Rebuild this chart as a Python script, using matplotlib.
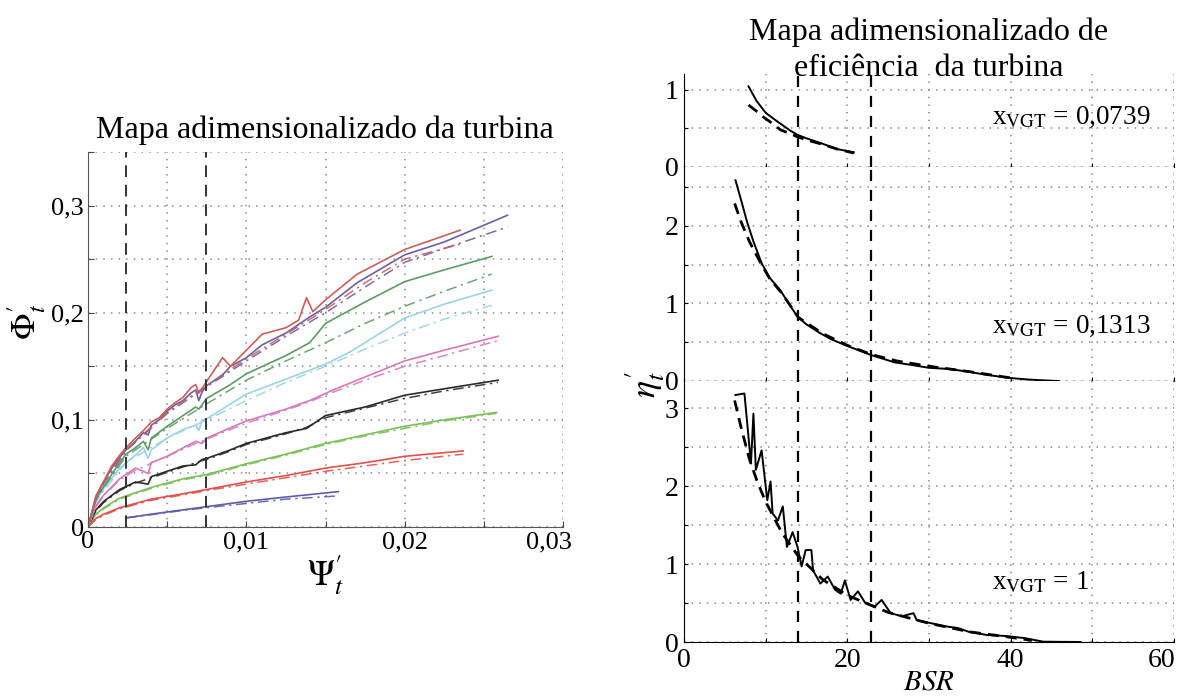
import numpy as np
import matplotlib
matplotlib.use("Agg")
import matplotlib.pyplot as plt
import matplotlib.transforms as mtransforms

plt.rcParams['font.family'] = ['Liberation Serif', 'DejaVu Serif']
plt.rcParams['mathtext.fontset'] = 'stix'

# ---- left chart: turbine map (Psi'_t vs Phi'_t), solid = measured, dash-dot = model ----
blue_x = [0.0024, 0.004, 0.006, 0.0075, 0.01, 0.0125, 0.0158]
blue_y = [0.0085, 0.012, 0.016, 0.019, 0.024, 0.028, 0.033]
blue_fit = [0.0085, 0.0115, 0.0155, 0.018, 0.022, 0.026, 0.029]

red_x = [0, 0.0005, 0.001, 0.002, 0.004, 0.006, 0.0075, 0.01, 0.0125, 0.015, 0.0175, 0.02, 0.0237]
red_y = [0, 0.008, 0.012, 0.018, 0.026, 0.031, 0.035, 0.042, 0.048, 0.055, 0.060, 0.066, 0.071]
red_fit = [0, 0.007, 0.011, 0.017, 0.025, 0.030, 0.034, 0.040, 0.046, 0.052, 0.057, 0.062, 0.068]

green_x = [0, 0.0005, 0.001, 0.002, 0.003, 0.004, 0.005, 0.006, 0.0075, 0.01, 0.0125, 0.015, 0.0175, 0.02, 0.0225, 0.0258]
green_y = [0, 0.012, 0.018, 0.027, 0.032, 0.037, 0.041, 0.045, 0.049, 0.059, 0.068, 0.078, 0.086, 0.094, 0.100, 0.107]
green_fit = [0, 0.011, 0.017, 0.026, 0.031, 0.036, 0.040, 0.044, 0.048, 0.058, 0.067, 0.077, 0.085, 0.092, 0.099, 0.106]

black_x = [0, 0.0005, 0.001, 0.002, 0.003, 0.0038, 0.004, 0.005, 0.006, 0.0068, 0.0072, 0.0075,
           0.009, 0.01, 0.0125, 0.0138, 0.015, 0.0175, 0.02, 0.0225, 0.0259]
black_y = [0, 0.016, 0.024, 0.035, 0.042, 0.040, 0.047, 0.052, 0.057, 0.058, 0.063, 0.064,
           0.072, 0.078, 0.088, 0.092, 0.104, 0.112, 0.123, 0.129, 0.137]
black_fit = [0, 0.015, 0.023, 0.034, 0.041, 0.045, 0.046, 0.051, 0.056, 0.060, 0.062, 0.063,
             0.071, 0.077, 0.087, 0.093, 0.102, 0.111, 0.120, 0.127, 0.135]

pink_x = [0, 0.0005, 0.001, 0.002, 0.003, 0.0038, 0.004, 0.005, 0.0068, 0.0072, 0.0075,
          0.01, 0.0125, 0.014, 0.0155, 0.0175, 0.02, 0.0225, 0.0259]
pink_y = [0, 0.020, 0.030, 0.045, 0.055, 0.050, 0.060, 0.066, 0.080, 0.078, 0.083,
          0.099, 0.110, 0.118, 0.128, 0.140, 0.155, 0.165, 0.178]
pink_fit = [0, 0.019, 0.029, 0.044, 0.053, 0.058, 0.060, 0.066, 0.078, 0.080, 0.082,
            0.097, 0.109, 0.117, 0.126, 0.137, 0.150, 0.160, 0.174]

cyan_x = [0, 0.0005, 0.001, 0.002, 0.003, 0.0035, 0.0038, 0.004, 0.005, 0.006, 0.0068, 0.007,
          0.0072, 0.0075, 0.01, 0.0125, 0.015, 0.0165, 0.02, 0.0225, 0.0255]
cyan_y = [0, 0.025, 0.036, 0.055, 0.067, 0.074, 0.064, 0.072, 0.083, 0.091, 0.095, 0.090,
          0.100, 0.101, 0.124, 0.138, 0.152, 0.163, 0.195, 0.208, 0.221]
fit_x = [0, 0.0005, 0.001, 0.0024, 0.005, 0.0075, 0.01, 0.0125, 0.015, 0.0175, 0.02, 0.0225, 0.0255]
cyan_fit = [0, 0.023, 0.034, 0.060, 0.083, 0.100, 0.118, 0.135, 0.150, 0.166, 0.181, 0.194, 0.207]

dgreen_x = [0, 0.0005, 0.001, 0.002, 0.0024, 0.003, 0.0035, 0.0038, 0.004, 0.005, 0.006, 0.0068,
            0.007, 0.0075, 0.009, 0.01, 0.0125, 0.014, 0.015, 0.0175, 0.02, 0.0225, 0.0255]
dgreen_y = [0, 0.026, 0.038, 0.060, 0.068, 0.074, 0.080, 0.072, 0.083, 0.094, 0.104, 0.112,
            0.110, 0.120, 0.133, 0.143, 0.160, 0.172, 0.190, 0.210, 0.229, 0.240, 0.2525]
dgreen_fit = [0, 0.025, 0.037, 0.066, 0.092, 0.115, 0.137, 0.155, 0.172, 0.190, 0.206, 0.220, 0.236]

purple_x = [0, 0.0005, 0.001, 0.0015, 0.002, 0.0024, 0.003, 0.0035, 0.0038, 0.004, 0.0045, 0.005,
            0.0055, 0.006, 0.0065, 0.0068, 0.007, 0.0072, 0.0075, 0.0085, 0.009, 0.01, 0.011,
            0.0125, 0.014, 0.015, 0.017, 0.02, 0.0225, 0.0265]
purple_y = [0, 0.028, 0.042, 0.055, 0.065, 0.072, 0.080, 0.088, 0.086, 0.095, 0.100, 0.108,
            0.114, 0.118, 0.125, 0.128, 0.118, 0.126, 0.132, 0.142, 0.150, 0.158, 0.170,
            0.181, 0.196, 0.205, 0.228, 0.254, 0.266, 0.291]
purple_fit_x = [0, 0.0005, 0.001, 0.0024, 0.005, 0.0075, 0.01, 0.0125, 0.015, 0.0175, 0.02, 0.0225, 0.0265]
purple_fit = [0, 0.027, 0.041, 0.071, 0.106, 0.131, 0.155, 0.178, 0.200, 0.224, 0.247, 0.260, 0.280]

brown_x = [0, 0.0005, 0.001, 0.0015, 0.002, 0.0024, 0.003, 0.0035, 0.004, 0.0045, 0.005, 0.0055,
           0.006, 0.0065, 0.0068, 0.007, 0.0075, 0.0085, 0.009, 0.01, 0.011, 0.0125, 0.0133,
           0.0138, 0.0142, 0.015, 0.017, 0.02, 0.0235]
brown_y = [0, 0.029, 0.043, 0.057, 0.067, 0.074, 0.083, 0.090, 0.098, 0.102, 0.110, 0.116,
           0.121, 0.130, 0.133, 0.125, 0.136, 0.158, 0.150, 0.165, 0.180, 0.186, 0.193,
           0.214, 0.201, 0.212, 0.236, 0.259, 0.277]
brown_fit_x = [0, 0.0005, 0.001, 0.0024, 0.005, 0.0075, 0.01, 0.0125, 0.015, 0.0175, 0.02, 0.0235]
brown_fit = [0, 0.028, 0.042, 0.072, 0.107, 0.132, 0.157, 0.180, 0.203, 0.228, 0.250, 0.264]

psi_marks = [0.0024, 0.00745]

# ---- right chart: efficiency map, three VGT openings ----
bsr_marks = [13.9, 22.9]
vgt_labels = ['0,0739', '0,1313', '1']

p1_x = [7.9, 8.9, 10, 11, 12, 13, 13.9, 15, 16.7, 18.8, 20.8]
p1_y = [1.04, 0.85, 0.70, 0.62, 0.545, 0.47, 0.415, 0.37, 0.31, 0.23, 0.19]
p1_fit_x = [7.9, 9, 9.9, 11, 11.8, 13, 13.9, 15, 16.7, 18.8, 20.8]
p1_fit = [0.80, 0.71, 0.63, 0.55, 0.48, 0.43, 0.39, 0.35, 0.30, 0.23, 0.18]

p2_x = [6.3, 7.0, 7.7, 8.5, 9.5, 10.5, 11.8, 13.0, 13.9, 15.0, 16.7, 18.0, 19.8, 22.9, 25.8,
        28, 30, 32.5, 34.8, 37, 39.8, 42, 44, 45.9]
p2_y = [2.59, 2.33, 2.06, 1.80, 1.52, 1.33, 1.17, 0.97, 0.83, 0.73, 0.615, 0.54, 0.46, 0.335, 0.24,
        0.205, 0.17, 0.155, 0.12, 0.08, 0.04, 0.02, 0.008, 0.0]
p2_fit_x = [6.2, 7.0, 8.0, 9.0, 9.5, 10.5, 12, 14, 17, 20, 23, 26, 30, 35, 40]
p2_fit = [2.29, 2.05, 1.80, 1.60, 1.50, 1.32, 1.13, 0.82, 0.61, 0.46, 0.34, 0.26, 0.19, 0.12, 0.04]

p3_x = [6.3, 7.4, 8.2, 8.5, 8.8, 9.5, 10.2, 10.6, 10.85, 11.5, 12.1, 12.6, 13.3, 13.9, 14.4,
        14.9, 15.6, 15.8, 16.7, 17.6, 18.5, 19.2, 19.7, 20.4, 21.3, 22.2, 23.3, 24.2, 25.3,
        26.7, 28.1, 28.5, 30.3, 32.1, 33.5, 34.9, 37.1, 39.4, 41.7, 44.0, 48.5]
p3_y = [3.17, 3.19, 2.29, 2.93, 2.21, 2.46, 1.82, 2.06, 1.65, 1.56, 1.74, 1.22, 1.41, 1.22, 0.97,
        1.18, 1.18, 0.92, 0.75, 0.84, 0.67, 0.62, 0.79, 0.54, 0.65, 0.50, 0.45, 0.54, 0.37,
        0.33, 0.37, 0.28, 0.24, 0.20, 0.18, 0.13, 0.09, 0.077, 0.05, 0.004, 0.0]
p3_fit_x = [6.2, 7, 8, 9, 10, 12, 14, 17, 20, 25, 30, 35, 40, 42.6]
p3_fit = [3.1, 2.75, 2.35, 2.05, 1.8, 1.4, 1.1, 0.8, 0.6, 0.38, 0.24, 0.13, 0.06, 0.02]

# ------------------------------------------------------------------
W, H = 1182, 697
fig = plt.figure(figsize=(W / 100, H / 100), dpi=100)
grid_kw = dict(color='#8a8a8a', linestyle=(0, (1, 4)), linewidth=1.1)


def shift_label(lbl, dx):
    lbl.set_transform(lbl.get_transform() + mtransforms.ScaledTranslation(dx / 100, 0, fig.dpi_scale_trans))


ax = fig.add_axes([88 / W, 1 - 527 / H, 475 / W, 375 / H])

curves = [
    (blue_x, blue_y, blue_x, blue_fit, '#5c5ca8'),
    (red_x, red_y, red_x, red_fit, '#e2504a'),
    (green_x, green_y, green_x, green_fit, '#7cc05a'),
    (black_x, black_y, black_x, black_fit, '#2a2a2a'),
    (pink_x, pink_y, pink_x, pink_fit, '#d47ab8'),
    (cyan_x, cyan_y, fit_x, cyan_fit, '#98d4e4'),
    (dgreen_x, dgreen_y, fit_x, dgreen_fit, '#5e9a66'),
    (purple_x, purple_y, purple_fit_x, purple_fit, '#6e5ea4'),
    (brown_x, brown_y, brown_fit_x, brown_fit, '#c8605a'),
]
for sx, sy, fx, fy, c in curves:
    ax.plot(fx, fy, color=c, lw=1.1, linestyle=(0, (7, 3, 1.5, 3)), alpha=0.9)
    ax.plot(sx, sy, color=c, lw=1.2)

for p in psi_marks:
    ax.axvline(p, color='#333333', lw=1.4, linestyle=(0, (6, 4)))

ax.set_xlim(0, 0.03)
ax.set_ylim(0, 0.35)
ax.set_xticks(np.arange(0, 0.0301, 0.005))
ax.set_xticklabels(['0', '', '0,01', '', '0,02', '', '0,03'])
ax.set_yticks(np.arange(0, 0.351, 0.05))
ax.set_yticklabels(['0', '', '0,1', '', '0,2', '', '0,3', ''])
ax.tick_params(direction='in', length=4, labelsize=19, pad=3, colors='#444444', labelcolor='black')
shift_label(ax.get_xticklabels()[-1], -14)
ax.grid(True, **grid_kw)
for s in ['top', 'right']:
    ax.spines[s].set_visible(False)
for s in ['left', 'bottom']:
    ax.spines[s].set_color('#555555')
ax.set_xlabel(r"$\Psi_t'$", fontsize=26, labelpad=0)
fig.text(27 / W, 1 - 322 / H, r"$\Phi_t'$", fontsize=25, rotation=90, ha='center', va='center')
fig.text(325 / W, 1 - 138 / H, 'Mapa adimensionalizado da turbina',
         fontsize=23, ha='center', va='baseline')

# right chart
heights = [1.2, 2.76, 3.35]
bounds = [(74, 167), (167, 381), (381, 642)]
panels = [
    (p1_x, p1_y, p1_fit_x, p1_fit, [0, 1], [0, 0.5, 1.0]),
    (p2_x, p2_y, p2_fit_x, p2_fit, [0, 1, 2], [0, 0.5, 1, 1.5, 2, 2.5]),
    (p3_x, p3_y, p3_fit_x, p3_fit, [0, 1, 2, 3], [0, 0.5, 1, 1.5, 2, 2.5, 3]),
]
label_y = [0.64, 0.71, 0.76]
for i, (sx, sy, fx, fy, major, minor) in enumerate(panels):
    top, bot = bounds[i]
    a = fig.add_axes([684 / W, 1 - bot / H, 490 / W, (bot - top) / H])
    a.plot(sx, sy, color='black', lw=1.4)
    a.plot(fx, fy, color='black', lw=2.0, linestyle=(0, (4, 2.5)))
    for b in bsr_marks:
        a.axvline(b, color='black', lw=1.6, linestyle=(0, (5, 4)))
    a.set_xlim(0, 60)
    a.set_ylim(0, heights[i])
    a.set_xticks([0, 10, 20, 30, 40, 50, 60])
    a.set_yticks(minor)
    a.set_yticklabels([str(int(v)) if v in major else '' for v in minor])
    a.grid(True, **grid_kw)
    a.spines['top'].set_visible(False)
    a.spines['right'].set_visible(False)
    a.tick_params(direction='in', length=3, labelsize=20, pad=4)
    if i < 2:
        a.tick_params(labelbottom=False)
    else:
        a.set_xticklabels(['0', '', '20', '', '40', '', '60'])
        shift_label(a.get_xticklabels()[-1], -12)
        a.set_xlabel(r'$BSR$', fontsize=21, labelpad=-2)
    a.text(37.7, label_y[i], r'x$_{\mathrm{VGT}}$ = ' + vgt_labels[i], fontsize=19.5,
           ha='left', va='center')

fig.text(645 / W, 1 - 385 / H, r"$\eta_t'$", fontsize=26, rotation=90, ha='center', va='center')
fig.text(929 / W, 1 - 40 / H, 'Mapa adimensionalizado de', fontsize=23, ha='center', va='baseline')
fig.text(929 / W, 1 - 76 / H, 'eficiência  da turbina', fontsize=23, ha='center', va='baseline')

fig.savefig('out.png', dpi=100)
